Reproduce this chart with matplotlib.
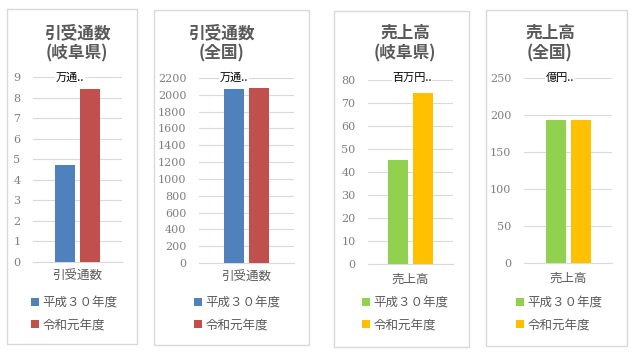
import matplotlib
matplotlib.use('Agg')
import matplotlib.pyplot as plt
import matplotlib.patches as mpatches

plt.rcParams['font.family'] = ['Noto Sans CJK JP', 'DejaVu Sans']

# data
titles = ['引受通数\n(岐阜県)', '引受通数\n(全国)', '売上高\n(岐阜県)', '売上高\n(全国)']
categories = ['引受通数', '引受通数', '売上高', '売上高']
units = ['万通..', '万通..', '百万円..', '億円..']
series = ['平成３０年度', '令和元年度']
h30 = [4.72, 2070, 45.2, 193]
r1 = [8.42, 2085, 74.3, 193]
ymax = [9, 2200, 80, 250]
ystep = [1, 200, 10, 50]

colors = [('#4F81BD', '#C0504D'), ('#4F81BD', '#C0504D'),
          ('#92D050', '#FFC000'), ('#92D050', '#FFC000')]

W, H = 635, 355
gray = '#595959'
grid = '#D9D9D9'

# pixel layout (left, right, top, bottom) per panel
boxes = [(7, 137, 9, 344), (154, 309, 10, 345), (334, 469, 11, 347), (486, 627, 10, 346)]
axes_px = [(33, 122, 77, 262), (199, 294, 78, 263), (368, 453, 80, 264), (524, 612, 78, 263)]
title_x = [77, 221, 405, 550]
unit_x = [70, 234, 412, 560]
legend_x = [31, 194, 362, 516]

fig = plt.figure(figsize=(W / 100, H / 100), dpi=100)

for i in range(4):
    bl, br, bt, bb = boxes[i]
    fig.patches.append(mpatches.Rectangle((bl / W, 1 - bb / H), (br - bl) / W, (bb - bt) / H,
                                          transform=fig.transFigure, facecolor='white',
                                          edgecolor=grid, linewidth=1, zorder=-5))

    l, r, t, b = axes_px[i]
    ax = fig.add_axes([l / W, 1 - b / H, (r - l) / W, (b - t) / H])
    ax.patch.set_visible(False)
    aw = r - l
    bw = 20 / aw
    off = 12.5 / aw
    c1, c2 = colors[i]
    b1 = ax.bar([-off], [h30[i]], bw, color=c1, label=series[0], zorder=3)
    b2 = ax.bar([off], [r1[i]], bw, color=c2, label=series[1], zorder=3)

    ax.set_xlim(-0.5, 0.5)
    ax.set_ylim(0, ymax[i])
    yt = list(range(0, ymax[i] + 1, ystep[i]))
    ax.set_yticks(yt, labels=[str(v) for v in yt], fontfamily='DejaVu Serif',
                  fontsize=8, color='#7F7F7F')
    ax.yaxis.grid(True, color=grid, linewidth=0.8)
    ax.set_axisbelow(True)
    for s in ['top', 'right', 'left']:
        ax.spines[s].set_visible(False)
    ax.spines['bottom'].set_color(grid)
    ax.spines['bottom'].set_linewidth(0.8)
    ax.tick_params(axis='y', length=0, pad=9)
    ax.set_xticks([0])
    ax.set_xticklabels([categories[i]], fontsize=9, color=gray)
    ax.tick_params(axis='x', length=0, pad=6)

    fig.text(title_x[i] / W, 1 - 43 / H, titles[i], ha='center', va='center',
             fontsize=12, fontweight='bold', color=gray, linespacing=1.15)
    fig.text(unit_x[i] / W, 1 - 78 / H, units[i], ha='center', va='center',
             fontsize=8, color='black',
             bbox=dict(facecolor='white', edgecolor='none', pad=0.5))

    fig.legend(handles=[b1, b2], loc='upper left',
               bbox_to_anchor=(legend_x[i] / W, 1 - 296 / H), frameon=False,
               fontsize=9, handlelength=0.6, handleheight=0.6, handletextpad=0.3,
               labelspacing=0.75, borderpad=0, borderaxespad=0, labelcolor=gray)

fig.savefig('out.png', dpi=100)
